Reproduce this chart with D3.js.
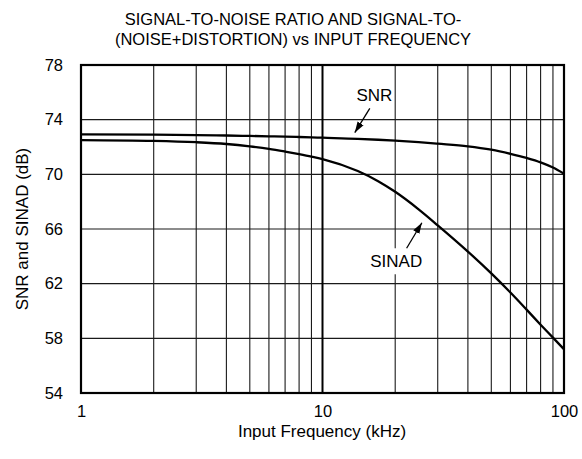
<!DOCTYPE html>
<html>
<head>
<meta charset="utf-8">
<script src="https://cdn.jsdelivr.net/npm/d3@7"></script>
<style>
body{margin:0;background:#fff;}
svg text{font-family:Arial,"Liberation Sans",Helvetica,sans-serif;fill:#000;}
</style>
</head>
<body>
<svg id="chart" width="582" height="459"></svg>
<script>
// data (kHz, dB)
const freqs = [1, 2, 3, 4, 5, 6, 7, 8, 9, 10, 14, 17, 20, 25, 30, 40, 50, 60, 70, 80, 90, 100];
const snr   = [72.93, 72.9, 72.87, 72.84, 72.81, 72.78, 72.755, 72.73, 72.705, 72.68, 72.6, 72.53, 72.46, 72.35, 72.24, 72.05, 71.8, 71.5, 71.2, 70.88, 70.5, 70.05];
const sinad = [72.51, 72.45, 72.35, 72.22, 72.05, 71.87, 71.67, 71.48, 71.3, 71.12, 70.24, 69.5, 68.72, 67.44, 66.27, 64.35, 62.75, 61.35, 60.1, 59.0, 58.05, 57.2];
const yTicks = [54, 58, 62, 66, 70, 74, 78];
const xTicks = [1, 10, 100];
const titleLines = ["SIGNAL-TO-NOISE RATIO AND SIGNAL-TO-", "(NOISE+DISTORTION) vs INPUT FREQUENCY"];

const svg = d3.select("#chart");
const pLeft = 81, pRight = 564, pTop = 65, pBottom = 393;

const x = d3.scaleLog().domain([1, 100]).range([pLeft, pRight]);
const y = d3.scaleLinear().domain([54, 78]).range([pBottom, pTop]);

// title
svg.append("g").selectAll("text")
  .data(titleLines)
  .join("text")
    .attr("x", 293)
    .attr("y", (d, i) => 25 + i * 20)
    .attr("text-anchor", "middle")
    .style("font-size", "16.5px")
    .text(d => d);

// grid
const minor = [];
[1, 10].forEach(dec => { for (let k = 2; k <= 9; k++) minor.push(k * dec); });
svg.append("g")
  .selectAll("line")
  .data(minor)
  .join("line")
    .attr("x1", d => x(d)).attr("x2", d => x(d))
    .attr("y1", pTop).attr("y2", pBottom)
    .attr("stroke", "#1a1a1a").attr("stroke-width", 1.1);
svg.append("g")
  .selectAll("line")
  .data(yTicks.slice(1, -1))
  .join("line")
    .attr("x1", pLeft).attr("x2", pRight)
    .attr("y1", d => y(d)).attr("y2", d => y(d))
    .attr("stroke", "#1a1a1a").attr("stroke-width", 1.1);
// decade line
svg.append("line")
  .attr("x1", x(10)).attr("x2", x(10))
  .attr("y1", pTop).attr("y2", pBottom)
  .attr("stroke", "#000").attr("stroke-width", 2);

// frame
svg.append("rect")
  .attr("x", pLeft).attr("y", pTop)
  .attr("width", pRight - pLeft).attr("height", pBottom - pTop)
  .attr("fill", "none").attr("stroke", "#000").attr("stroke-width", 2.2);

// axes labels
const yAxis = d3.axisLeft(y).tickValues(yTicks).tickSize(0).tickPadding(18);
svg.append("g").attr("transform", `translate(${pLeft},0)`).call(yAxis)
  .call(g => g.select(".domain").remove())
  .selectAll("text").style("font-size", "16.5px").attr("font-family", null);

const xAxis = d3.axisBottom(x).tickValues(xTicks).tickFormat(d3.format("d")).tickSize(0).tickPadding(12);
svg.append("g").attr("transform", `translate(0,${pBottom})`).call(xAxis)
  .call(g => g.select(".domain").remove())
  .selectAll("text").style("font-size", "16.5px").attr("font-family", null);

svg.append("text")
  .attr("x", (pLeft + pRight) / 2 - 0.5).attr("y", 437)
  .attr("text-anchor", "middle")
  .style("font-size", "17px")
  .text("Input Frequency (kHz)");

svg.append("text")
  .attr("transform", `translate(28,${(pTop + pBottom) / 2}) rotate(-90)`)
  .attr("text-anchor", "middle")
  .style("font-size", "17px")
  .text("SNR and SINAD (dB)");

// curves
const line = d3.line()
  .x(d => x(d[0]))
  .y(d => y(d[1]))
  .curve(d3.curveMonotoneX);

[snr, sinad].forEach(series => {
  svg.append("path")
    .datum(freqs.map((f, i) => [f, series[i]]))
    .attr("d", line)
    .attr("fill", "none")
    .attr("stroke", "#000")
    .attr("stroke-width", 2.3);
});

// annotations
svg.append("defs").append("marker")
  .attr("id", "arrow")
  .attr("viewBox", "0 0 10 10")
  .attr("refX", 10).attr("refY", 5)
  .attr("markerWidth", 11).attr("markerHeight", 11)
  .attr("markerUnits", "userSpaceOnUse")
  .attr("orient", "auto")
  .append("path").attr("d", "M0,1.8L10,5L0,8.2Z").attr("fill", "#000");

const sinadLbl = {f: 20.2, v: 63.2, text: "SINAD", from: [22.3, 64.59], to: [25.8, 66.46]};
const snrLbl = {f: 16.4, v: 75.39, text: "SNR", from: [15.7, 74.83], to: [13.6, 73.05]};

// white box behind SINAD label
svg.append("rect")
  .attr("x", x(sinadLbl.f) - 30).attr("y", y(sinadLbl.v) - 19)
  .attr("width", 60).attr("height", 26)
  .attr("fill", "#fff");

[snrLbl, sinadLbl].forEach(a => {
  svg.append("text")
    .attr("x", x(a.f)).attr("y", y(a.v))
    .attr("text-anchor", "middle")
    .style("font-size", "17px")
    .text(a.text);
  svg.append("line")
    .attr("x1", x(a.from[0])).attr("y1", y(a.from[1]))
    .attr("x2", x(a.to[0])).attr("y2", y(a.to[1]))
    .attr("stroke", "#000").attr("stroke-width", 1.3)
    .attr("marker-end", "url(#arrow)");
});
</script>
</body>
</html>
